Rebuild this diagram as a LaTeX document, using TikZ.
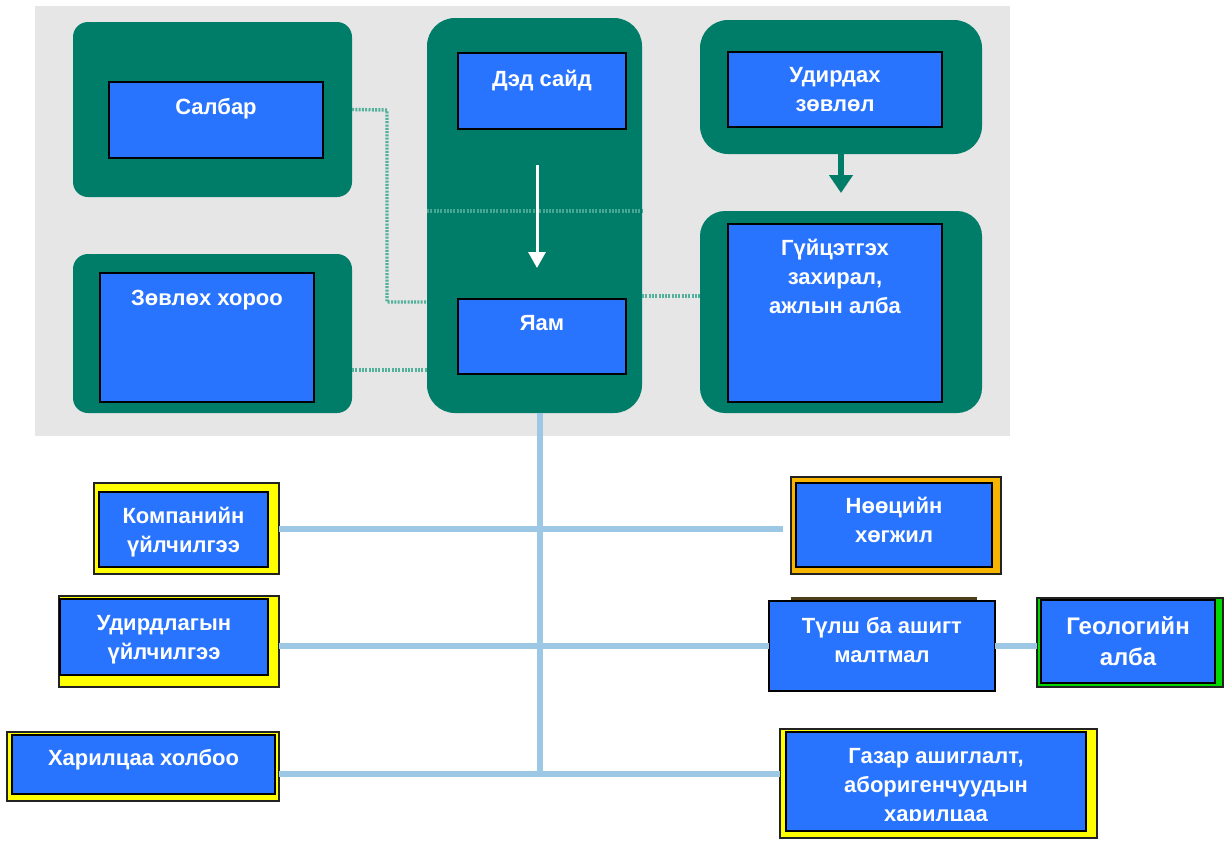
\documentclass[tikz,border=0pt]{standalone}
\usepackage{fontspec}
\setmainfont{Liberation Sans}
\usetikzlibrary{arrows.meta,calc}
\definecolor{gbg}{HTML}{E6E6E6}
\definecolor{tgreen}{HTML}{007D68}
\definecolor{bblue}{HTML}{2874FF}
\definecolor{lblue}{HTML}{9DC8E5}
\definecolor{dteal}{HTML}{52B09B}
\definecolor{yel}{HTML}{FFFF00}
\definecolor{orng}{HTML}{F7B500}
\definecolor{lime}{HTML}{00D800}
\definecolor{edge}{HTML}{222222}
\tikzset{
  greenbox/.style={fill=tgreen, draw=none, rounded corners=#1, inner sep=0, outer sep=0},
  bluebox/.style={fill=bblue, draw=black, line width=1.6pt, inner sep=0, outer sep=0},
  framebox/.style={fill=#1, draw=edge, line width=1.6pt, inner sep=0, outer sep=0},
  lbl/.style={text=white, font=\bfseries\fontsize{22}{29}\selectfont, align=center, inner sep=0, anchor=north},
  dotline/.style={draw=dteal, line width=3.4pt, dash pattern=on 2pt off 1.3pt},
  trunk/.style={draw=lblue, line width=6pt},
}
\begin{document}
\begin{tikzpicture}[x=1pt,y=-1pt]
\useasboundingbox (0,0) rectangle (1225,844);
\fill[white] (0,0) rectangle (1225,844);
% grey background
\node[fill=gbg, inner sep=0, minimum width=975, minimum height=430] (bg) at (522.5,221) {};

% green containers
\node[greenbox=15pt, minimum width=279, minimum height=175] (gSalbar) at (212.5,109.5) {};
\node[greenbox=15pt, minimum width=279, minimum height=159] (gZovlokh) at (212.5,333.5) {};
\node[greenbox=28pt, minimum width=215, minimum height=395] (gMid) at (534.5,215.5) {};
\node[greenbox=28pt, minimum width=282, minimum height=134] (gUdir) at (841,87) {};
\node[greenbox=25pt, minimum width=282, minimum height=202] (gGuits) at (841,312) {};

% dotted connectors
\coordinate (d1a) at (gSalbar.east);
\coordinate (d1b) at (387,110);
\coordinate (d1c) at (387,302);
\draw[dotline] (d1a) -- (d1b) -- (d1c) -- (d1c -| gMid.west);
\coordinate (d2a) at (352,370);
\draw[dotline] (d2a) -- (d2a -| gMid.west);
\coordinate (d3a) at (642,296);
\draw[dotline] (d3a) -- (d3a -| gGuits.west);
\coordinate (d4a) at (427,211);
\draw[dotline, draw=dteal!85!tgreen] (d4a) -- (d4a -| gMid.east);

% blue boxes (top)
\node[bluebox, minimum width=214, minimum height=76] (bSalbar) at (216,120) {};
\node[bluebox, minimum width=214, minimum height=129] (bZovlokh) at (207,337.5) {};
\node[bluebox, minimum width=168, minimum height=76] (bDed) at (542,91) {};
\node[bluebox, minimum width=168, minimum height=75] (bYam) at (542,336.5) {};
\node[bluebox, minimum width=214, minimum height=75] (bUdir) at (835,89.5) {};
\node[bluebox, minimum width=214, minimum height=178] (bGuits) at (835,313) {};

\node[lbl] (tSalbar) at (216,98) {Салбар};
\node[lbl] (tZovlokh) at (207,290) {Зөвлөх хороо};
\node[lbl] (tDed) at (542,70) {Дэд сайд};
\node[lbl] (tYam) at (542,315) {Яам};
\node[lbl] (tUdir) at (835,67) {Удирдах\\зөвлөл};
\node[lbl] (tGuits) at (835,239) {Гүйцэтгэх\\захирал,\\ажлын алба};

% arrows
\draw[white, line width=3pt, -{Triangle[width=17pt,length=16pt]}]
  ($(bDed.south)+(-5,36)$) -- ($(bYam.north)+(-5,-31)$);
\draw[tgreen, line width=6pt, -{Triangle[width=23pt,length=18pt]}]
  (gUdir.south) -- ($(gGuits.north)+(0,-18)$);

% bottom boxes
\node[framebox=yel, minimum width=185, minimum height=91] (kompY) at (186.5,528.5) {};
\node[bluebox, minimum width=169, minimum height=75] (kompB) at (183.5,529.5) {};
\node[lbl] (tKomp) at (183.5,507) {Компанийн\\үйлчилгээ};

\node[framebox=yel, minimum width=220, minimum height=91] (udY) at (169,641.5) {};
\node[bluebox, minimum width=208, minimum height=76] (udB) at (164,637) {};
\node[lbl] (tUd) at (164,615) {Удирдлагын\\үйлчилгээ};

\node[framebox=yel, minimum width=272, minimum height=69] (kharY) at (143,766.5) {};
\node[bluebox, minimum width=263, minimum height=59] (kharB) at (143.5,764.5) {};
\node[lbl] (tKhar) at (143.5,749) {Харилцаа холбоо};

\node[framebox=orng, minimum width=210, minimum height=97] (nooO) at (896,525.5) {};
\node[bluebox, minimum width=196, minimum height=84] (nooB) at (894,525) {};
\node[lbl] (tNoo) at (894,497) {Нөөцийн\\хөгжил};

\node[fill=edge!80!orng, inner sep=0, minimum width=186, minimum height=9] (tulshS) at (884,601.5) {};
\node[bluebox, minimum width=226, minimum height=90] (tulsh) at (882,646) {};
\node[lbl] (tTulsh) at (882,617) {Түлш ба ашигт\\малтмал};

\node[framebox=lime, minimum width=186, minimum height=89] (geoG) at (1130,642.5) {};
\node[bluebox, minimum width=174, minimum height=83] (geoB) at (1128,641.5) {};
\node[lbl, font=\bfseries\fontsize{24}{31}\selectfont] (tGeo) at (1128,616) {Геологийн\\алба};

\node[framebox=yel, minimum width=317, minimum height=109] (gazY) at (938.5,783.5) {};
\node[bluebox, minimum width=300, minimum height=99] (gazB) at (936,781.5) {};
\begin{scope}
\clip (786,732) rectangle (1086,820);
\node[lbl] (tGaz) at (936,748) {Газар ашиглалт,\\аборигенчуудын\\харилцаа};
\end{scope}

% light-blue connectors
\coordinate (trunkEnd) at (540,774);
\draw[trunk] (540,413) -- (trunkEnd);
\coordinate (h1) at (783,528);
\draw[trunk] (kompY.east) -- (kompY.east -| h1);
\draw[trunk] (tulsh.west) -- (tulsh.west -| udY.east);
\draw[trunk] (kharY.east |- trunkEnd) -- (trunkEnd -| gazY.west);
\draw[trunk] (tulsh.east) -- (tulsh.east -| geoG.west);
\end{tikzpicture}
\end{document}
